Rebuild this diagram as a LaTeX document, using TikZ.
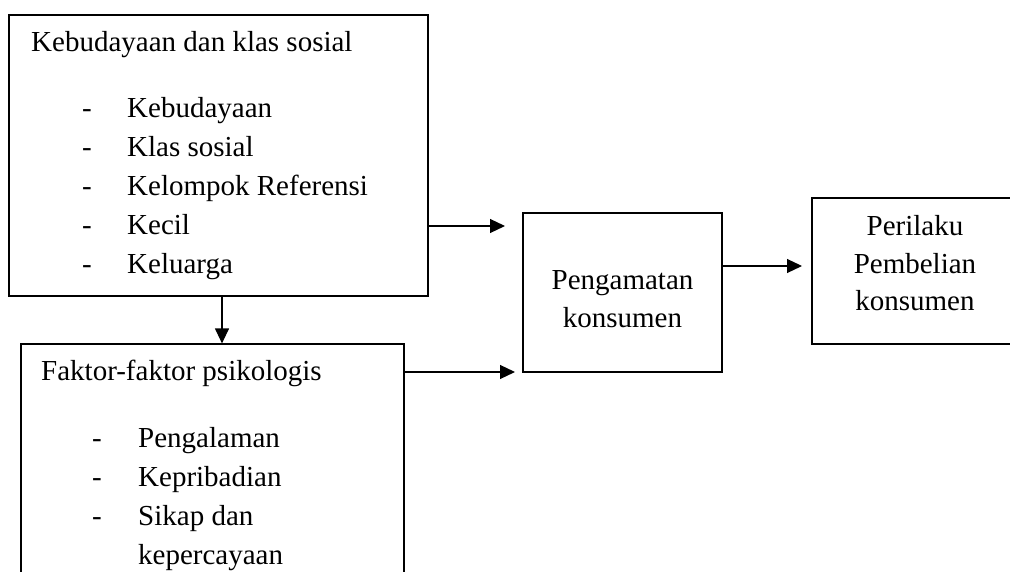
\documentclass[tikz,border=0pt]{standalone}
\usepackage{fontspec}
\setmainfont{Liberation Serif}
\usetikzlibrary{arrows.meta}
\tikzset{
  kotak/.style={draw,line width=1.2pt,inner sep=0pt},
  teks/.style={font=\fontsize{29}{37}\selectfont,inner sep=0pt},
  panah/.style={line width=1.2pt,-{Triangle[length=15pt,width=14pt]}}
}
\begin{document}
\begin{tikzpicture}[x=1pt,y=-1pt]
\useasboundingbox (0,0) rectangle (1010,572);
\clip (0,0) rectangle (1010,572);
% kotak
\node[kotak,minimum width=419pt,minimum height=281pt] (budaya) at (218.5,155.5) {};
\node[kotak,minimum width=383pt,minimum height=256pt] (psiko) at (212.5,472) {};
\node[kotak,minimum width=199pt,minimum height=159pt] (amat) at (622.5,292.5) {};
\node[kotak,minimum width=218pt,minimum height=146pt] (beli) at (921,271) {};
% kebudayaan
\draw (31,52) node[teks,anchor=base west] (jdl1) {Kebudayaan dan klas sosial};
\draw (82,118) node[teks,anchor=base west] (s1) {-};
\draw (127,118) node[teks,anchor=base west] (b1) {Kebudayaan};
\draw (82,157) node[teks,anchor=base west] (s2) {-};
\draw (127,157) node[teks,anchor=base west] (b2) {Klas sosial};
\draw (82,196) node[teks,anchor=base west] (s3) {-};
\draw (127,196) node[teks,anchor=base west] (b3) {Kelompok Referensi};
\draw (82,235) node[teks,anchor=base west] (s4) {-};
\draw (127,235) node[teks,anchor=base west] (b4) {Kecil};
\draw (82,274) node[teks,anchor=base west] (s5) {-};
\draw (127,274) node[teks,anchor=base west] (b5) {Keluarga};
% psikologis
\draw (41,380) node[teks,anchor=base west] (jdl2) {Faktor-faktor psikologis};
\draw (92,447) node[teks,anchor=base west] (t1) {-};
\draw (138,447) node[teks,anchor=base west] (p1) {Pengalaman};
\draw (92,486) node[teks,anchor=base west] (t2) {-};
\draw (138,486) node[teks,anchor=base west] (p2) {Kepribadian};
\draw (92,525) node[teks,anchor=base west] (t3) {-};
\draw (138,525) node[teks,anchor=base west] (p3) {Sikap dan};
\draw (138,564) node[teks,anchor=base west] (p4) {kepercayaan};
% tengah dan kanan
\draw (622.5,290) node[teks,anchor=base] (a1) {Pengamatan};
\draw (622.5,327) node[teks,anchor=base] (a2) {konsumen};
\draw (915,236) node[teks,anchor=base] (c1) {Perilaku};
\draw (915,273) node[teks,anchor=base] (c2) {Pembelian};
\draw (915,310) node[teks,anchor=base] (c3) {konsumen};
% panah
\coordinate (u1) at (505,226);
\coordinate (u2) at (515,372);
\coordinate (u3) at (802,266);
\coordinate (v) at (222,296);
\draw[panah] (budaya.east |- u1) -- (u1);
\draw[panah] (psiko.east |- u2) -- (u2);
\draw[panah] (amat.east |- u3) -- (u3);
\draw[panah] (v) -- (v |- psiko.north);
\end{tikzpicture}
\end{document}
